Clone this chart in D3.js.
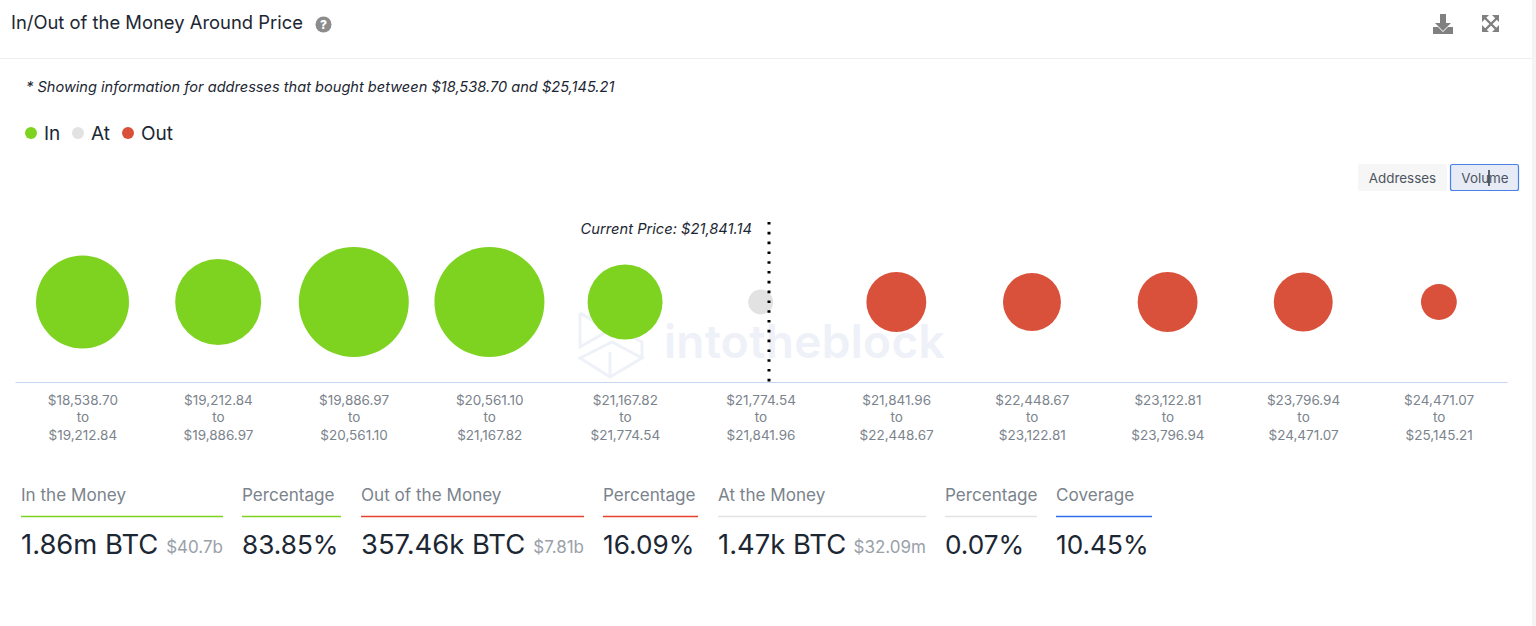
<!DOCTYPE html>
<html><head><meta charset="utf-8">
<script src="https://d3js.org/d3.v7.min.js"></script>
<style>html,body{margin:0;padding:0;background:#fff;overflow:hidden}svg{display:block;font-family:Inter,"Noto Sans",sans-serif}</style>
</head><body><svg id="c" width="1536" height="626"></svg>
<script>
const rangeFrom=["$18,538.70","$19,212.84","$19,886.97","$20,561.10","$21,167.82","$21,774.54","$21,841.96","$22,448.67","$23,122.81","$23,796.94","$24,471.07"];
const rangeTo=["$19,212.84","$19,886.97","$20,561.10","$21,167.82","$21,774.54","$21,841.96","$22,448.67","$23,122.81","$23,796.94","$24,471.07","$25,145.21"];
const volumes=[350000,286000,533000,533000,198000,1470,104000,94000,104000,99000,16000];
const kinds=["In","In","In","In","In","At","Out","Out","Out","Out","Out"];
const legendNames=["In","At","Out"];
const kindColors={In:"#7ed321",At:"#e2e2e2",Out:"#d9513a"};
const statLabels=["In the Money","Percentage","Out of the Money","Percentage","At the Money","Percentage","Coverage"];
const statValues=["1.86m BTC","83.85%","357.46k BTC","16.09%","1.47k BTC","0.07%","10.45%"];
const statSubs=["$40.7b","","$7.81b","","$32.09m","",""];
const statStarts=[21,242,361,603,718,945,1056];
const statEnds=[223,341,584,698,926,1037,1152];
const statColors=["#7ed321","#7ed321","#e8412f","#e8412f","#e2e2e2","#e2e2e2","#2f6fed"];
const currentPrice=21841.14;

const svg=d3.select("#c");
const ink="#1c2733",grey="#7b838c";
svg.append("rect").attr("x",1532).attr("y",0).attr("width",4).attr("height",626).attr("fill","#f4f4f5");
svg.append("line").attr("x1",0).attr("x2",1532).attr("y1",58.5).attr("y2",58.5).attr("stroke","#eeeeee");
svg.append("text").attr("x",11).attr("y",29).attr("font-size",18.4).attr("fill",ink).text("In/Out of the Money Around Price");
svg.append("circle").attr("cx",323.5).attr("cy",24.5).attr("r",8).attr("fill","#8c8c8c");
svg.append("text").attr("x",323.5).attr("y",29).attr("text-anchor","middle").attr("font-size",12).attr("font-weight",800).attr("fill","#fff").text("?");
svg.append("path").attr("fill","#808080").attr("d","M1440 14h6v9h5l-8 8-8-8h5zM1433 27h5l5 5 5-5h5v7h-20z");
svg.append("path").attr("fill","none").attr("stroke","#808080").attr("stroke-width",2.4).attr("d","M1485 18l12 12M1497 18l-12 12");
svg.append("path").attr("fill","#808080").attr("d","M1482 15h7l-7 7zM1499 15h-7l7 7zM1482 32h7l-7-7zM1499 32h-7l7-7z");

svg.append("text").attr("x",26).attr("y",92).attr("font-size",14.6).attr("font-style","italic").attr("fill",ink)
  .text("* Showing information for addresses that bought between $18,538.70 and $25,145.21");

const legendDotX=[31,78,128],legendTextX=[44,91,141];
legendNames.forEach((n,i)=>{
  svg.append("circle").attr("cx",legendDotX[i]).attr("cy",133).attr("r",6).attr("fill",kindColors[n]);
  svg.append("text").attr("x",legendTextX[i]).attr("y",139.5).attr("font-size",19).attr("fill",ink).text(n);
});

svg.append("rect").attr("x",1358).attr("y",164).attr("width",89).attr("height",27).attr("rx",2).attr("fill","#f6f6f6");
svg.append("text").attr("x",1402.5).attr("y",182.5).attr("text-anchor","middle").attr("font-size",13.4).attr("fill","#4d5560").text("Addresses");
svg.append("rect").attr("x",1450.5).attr("y",164.5).attr("width",68).attr("height",26).attr("rx",2).attr("fill","#e6ebf6").attr("stroke","#4a80ea").attr("stroke-width",1.2);
svg.append("text").attr("x",1485).attr("y",182.5).attr("text-anchor","middle").attr("font-size",13.4).attr("fill","#4d5560").text("Volume");
svg.append("line").attr("x1",1489).attr("x2",1489).attr("y1",170).attr("y2",186).attr("stroke","#1c2733").attr("stroke-width",1.4);

const wm=svg.append("g").attr("fill","none").attr("stroke","#eef1f7").attr("stroke-width",3);
wm.append("path").attr("d","M580 313V347L606 332M580 313L606 328M580 358L612 342L642 358L610 377ZM610 377V352M642 358V342L612 325");
svg.append("text").attr("x",664).attr("y",358).attr("font-size",46).attr("font-weight",600).attr("letter-spacing",0.3).attr("fill","#eef1f7").text("intotheblock");

const x=d3.scaleBand().domain(d3.range(volumes.length)).range([15,1507]);
const r=d3.scaleSqrt().domain([d3.min(volumes),d3.max(volumes)]).range([12.5,55]);
const cy=302;
svg.append("g").selectAll("circle").data(volumes).join("circle")
  .attr("cx",(d,i)=>x(i)+x.bandwidth()/2-0.3).attr("cy",cy).attr("r",d=>r(d))
  .attr("fill",(d,i)=>kindColors[kinds[i]]);

const axis=svg.append("g").attr("transform","translate(0,382)")
  .call(d3.axisBottom(x).tickSize(0).tickPadding(0).tickFormat(()=>""));
axis.select(".domain").attr("stroke","#c7d5ef");
axis.selectAll(".tick text").attr("font-family","Inter,sans-serif").attr("y",0).attr("dy",0).attr("font-size",13.5).attr("fill",grey)
  .each(function(i){
    const t=d3.select(this);
    [[rangeFrom[i],23],["to",40],[rangeTo[i],57.5]].forEach(([s,y])=>t.append("tspan").attr("x",0).attr("y",y).text(s));
  });

svg.append("line").attr("x1",769).attr("x2",769).attr("y1",222).attr("y2",382).attr("stroke","#000").attr("stroke-width",3).attr("stroke-dasharray","2.6 7.2");
svg.append("text").attr("x",752).attr("y",234).attr("text-anchor","end").attr("font-size",14.7).attr("font-style","italic").attr("fill",ink)
  .text("Current Price: "+d3.format("$,.2f")(currentPrice));

statLabels.forEach((l,i)=>{
  svg.append("text").attr("x",statStarts[i]).attr("y",501).attr("font-size",17.1).attr("fill",grey).text(l);
  svg.append("line").attr("x1",statStarts[i]).attr("x2",statEnds[i]).attr("y1",516.5).attr("y2",516.5).attr("stroke",statColors[i]).attr("stroke-width",1.6);
  svg.append("text").attr("x",statStarts[i]).attr("y",554).attr("font-size",statValues[i].includes("BTC")?27.4:26.2).attr("fill",ink).text(statValues[i]);
  if(statSubs[i]) svg.append("text").attr("x",statEnds[i]).attr("y",553).attr("text-anchor","end").attr("font-size",17).attr("fill","#9aa1a9").text(statSubs[i]);
});
</script></body></html>
